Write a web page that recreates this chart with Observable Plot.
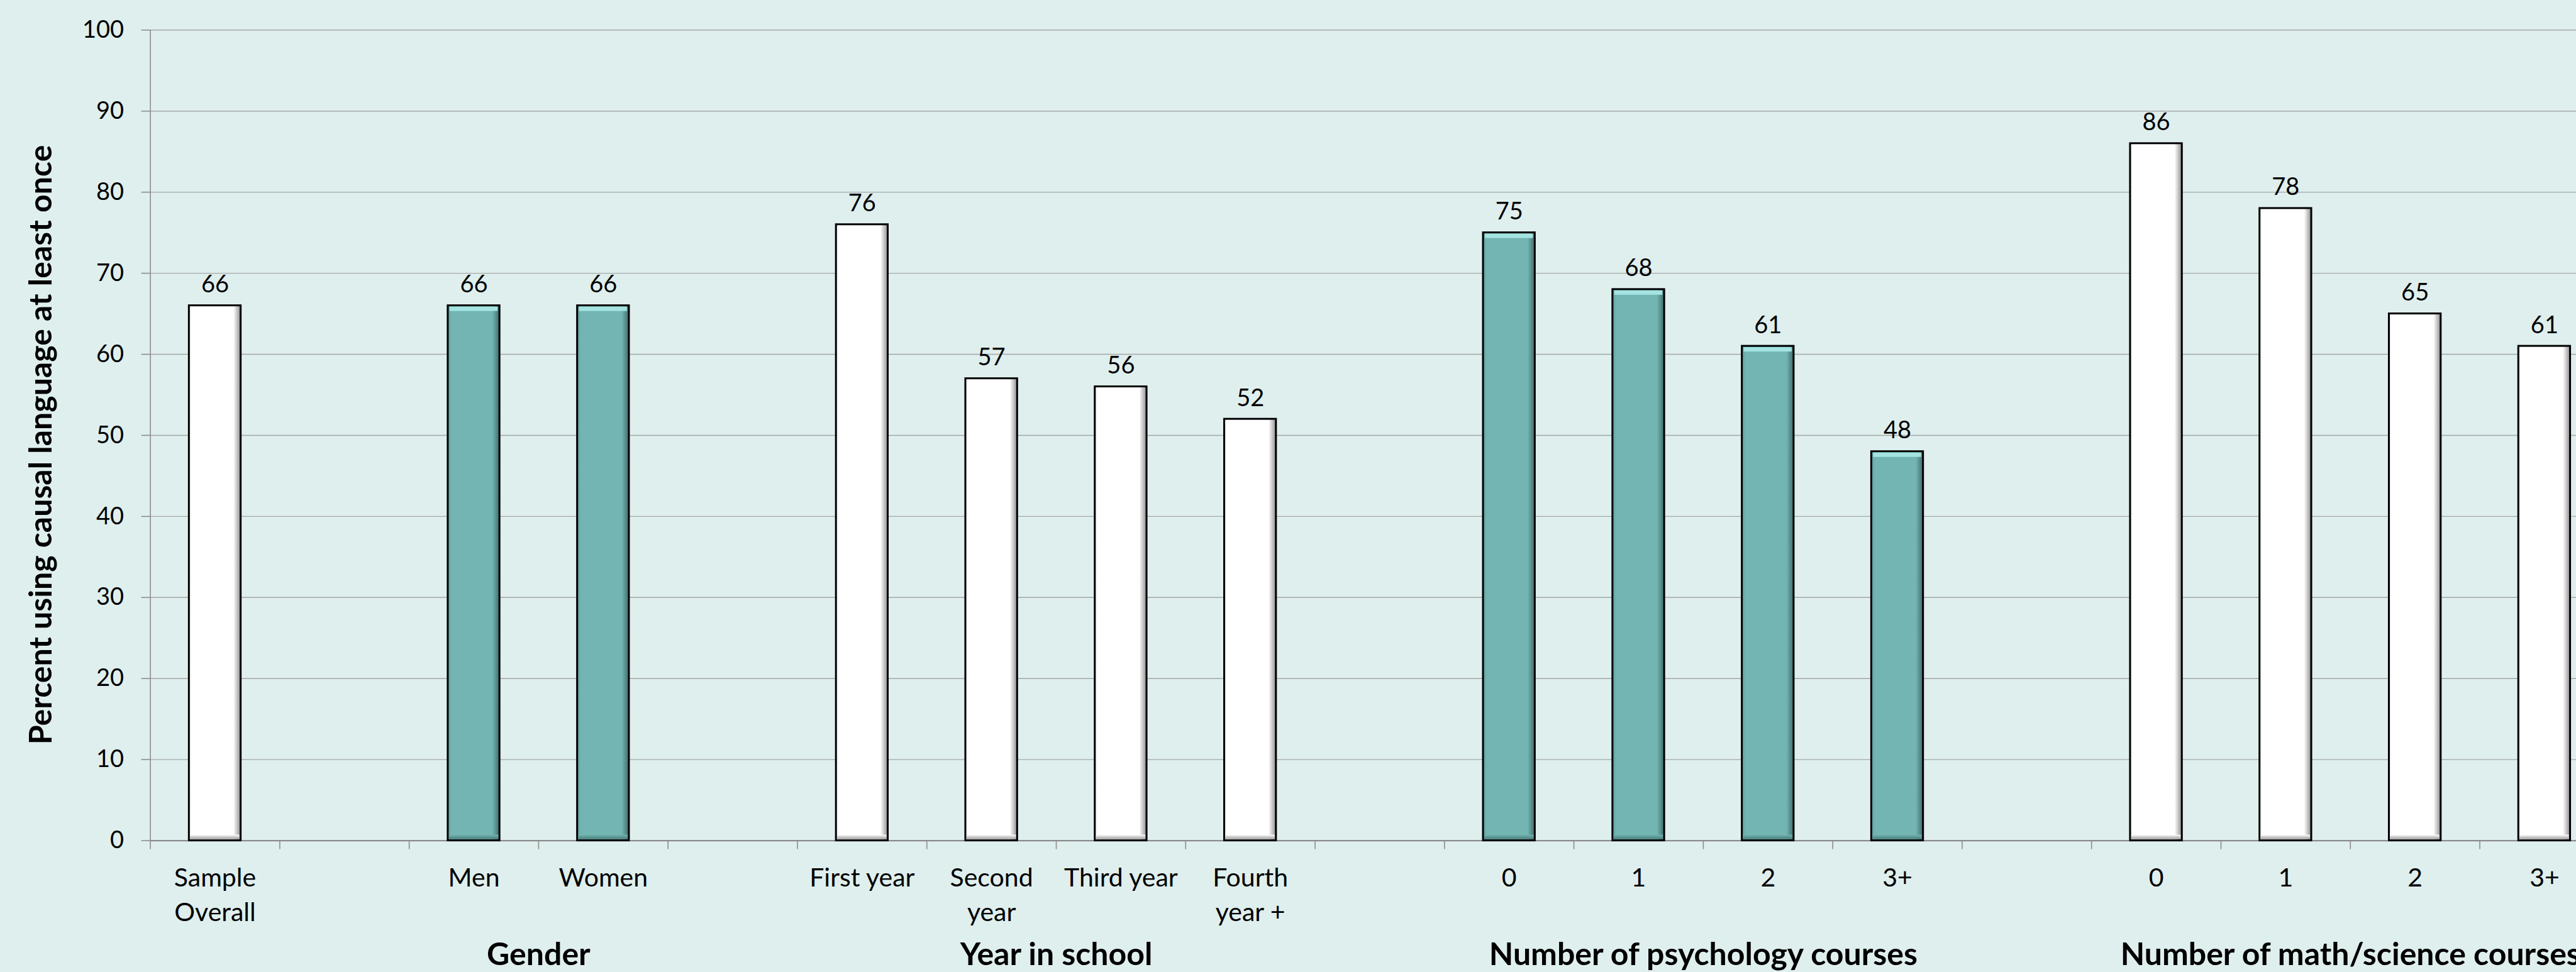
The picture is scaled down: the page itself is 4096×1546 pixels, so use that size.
<!DOCTYPE html>
<html><head><meta charset="utf-8">
<script src="https://cdn.jsdelivr.net/npm/d3@7"></script>
<script src="https://cdn.jsdelivr.net/npm/@observablehq/plot@0.6"></script>
<style>
html,body{margin:0;padding:0;background:#DFEFEE;overflow:hidden;}
#wrap{width:4096px;height:1546px;overflow:hidden;background:#DFEFEE;}
</style></head><body><div id="wrap"></div>
<script>
// ---- data ----
const categories = ["Sample\nOverall","","Men","Women","","First year","Second\nyear","Third year","Fourth\nyear +","","0","1","2","3+","","0","1","2","3+"];
const values = [66,null,66,66,null,76,57,56,52,null,75,68,61,48,null,86,78,65,61];
const barStyle = ["white",null,"teal","teal",null,"white","white","white","white",null,"teal","teal","teal","teal",null,"white","white","white","white"];
const groupLabels = ["Gender","Year in school","Number of psychology courses","Number of math/science courses"];
const groupFirst = [2,5,10,15];
const groupLast = [3,8,13,18];
const yTicks = [0,10,20,30,40,50,60,70,80,90,100];
const yTitle = "Percent using causal language at least once";

// ---- layout ----
const W = 4160, H = 1546;
const mL = 238.6, mR = W - 4148.3, mT = 47.3, mB = H - 1336.6;
const step = (W - mL - mR) / categories.length;
const idx = d3.range(categories.length);
const bars = idx.filter(i => values[i] != null).map(i => ({i, v: values[i], s: barStyle[i]}));
const tealBars = bars.filter(d => d.s === "teal");
const axisGray = "#8C8C8C";

const groupMarks = groupLabels.map((g, k) => {
  const mid = (groupFirst[k] + groupLast[k]) / 2;
  const xi = Math.ceil(mid);
  return Plot.text([g], {x: () => xi, dx: (mid - xi) * step, frameAnchor: "bottom", lineAnchor: "bottom",
    dy: 198, fontWeight: "bold", fontSize: 50, fill: "black"});
});

const plot = Plot.plot({
  width: W, height: H,
  marginLeft: mL, marginRight: mR, marginTop: mT, marginBottom: mB,
  style: {background: "transparent", fontFamily: "Lato, sans-serif", fontSize: "38px", color: "black", overflow: "visible", maxWidth: "none"},
  x: {type: "band", domain: idx, paddingInner: 0.6, paddingOuter: 0.3, round: false, axis: null},
  y: {domain: [0, 100], axis: null},
  marks: [
    Plot.gridY(yTicks, {stroke: "#A3A7A7", strokeOpacity: 1, strokeWidth: 1.4}),
    Plot.axisY(yTicks, {tickSize: 14, tickPadding: 28, stroke: axisGray, strokeWidth: 1.6, fill: "black", fontSize: 38, label: null}),
    Plot.ruleX([0], {dx: -step / 2, stroke: axisGray, strokeWidth: 1.6, insetBottom: -14}),
    Plot.axisX(idx, {tickSize: 14, tickFormat: () => "", dx: step / 2, stroke: axisGray, strokeWidth: 1.6, label: null}),
    Plot.ruleY([0], {stroke: axisGray, strokeWidth: 2.2}),
    Plot.barY(bars, {x: "i", y: "v", fill: d => d.s === "teal" ? "url(#gTeal)" : "url(#gWhite)", stroke: "black", strokeWidth: 3}),
    Plot.barY(tealBars, {x: "i", y1: "v", y2: "v", insetTop: 2, insetBottom: -9, insetLeft: 3, insetRight: 3, fill: "#A3E3E1"}),
    Plot.barY(bars, {x: "i", y1: 0, y2: 0, insetTop: -9, insetBottom: 2, insetLeft: 2, insetRight: 2,
      fill: d => d.s === "teal" ? "url(#gTealBot)" : "url(#gWhiteBot)"}),
    Plot.text(bars, {x: "i", y: "v", text: d => String(d.v), lineAnchor: "bottom", dy: -21, fontSize: 38, fill: "black"}),
    Plot.text(idx, {x: d => d, text: d => categories[d], frameAnchor: "bottom", lineAnchor: "top", dy: 34, lineHeight: 1.34, fontSize: 41, fill: "black"}),
    ...groupMarks,
    Plot.text([yTitle], {frameAnchor: "left", rotate: -90, dx: -173.6, dy: 15, fontWeight: "bold", fontSize: 50, textAnchor: "middle", lineAnchor: "middle", fill: "black"})
  ]
});

const defs = d3.select(plot).insert("defs", ":first-child");
function grad(id, stops, vertical) {
  const g = defs.append("linearGradient").attr("id", id)
    .attr("x1", 0).attr("y1", 0).attr("x2", vertical ? 0 : 1).attr("y2", vertical ? 1 : 0);
  stops.forEach(([o, c]) => g.append("stop").attr("offset", o).attr("stop-color", c));
}
grad("gTeal", [[0, "#5C9B98"], [0.07, "#72B5B2"], [0.86, "#72B5B2"], [1, "#3E6C6A"]]);
grad("gWhite", [[0, "#EAEAEA"], [0.06, "#FFFFFF"], [0.86, "#FFFFFF"], [1, "#8E8E8E"]]);
grad("gTealBot", [[0, "#72B5B2"], [1, "#4A7C7A"]], true);
grad("gWhiteBot", [[0, "#FFFFFF"], [1, "#9C9C9C"]], true);

document.getElementById("wrap").appendChild(plot);
</script></body></html>
